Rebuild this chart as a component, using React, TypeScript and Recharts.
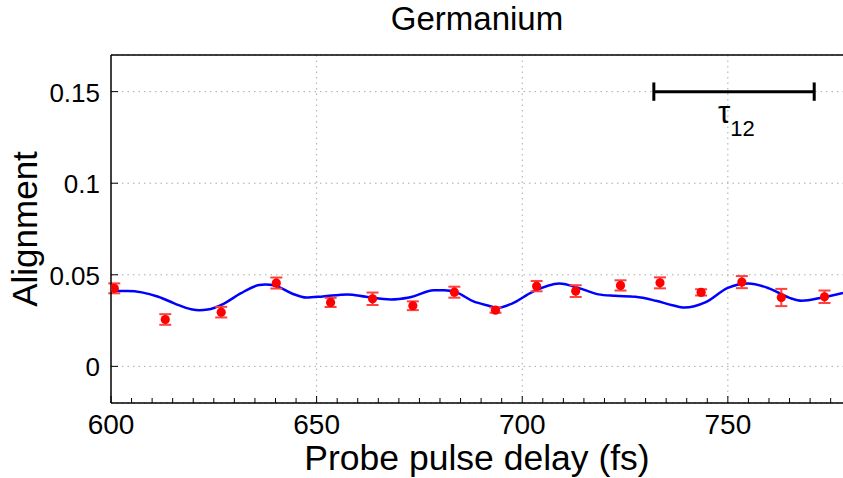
import { ComposedChart, Line, Scatter, ErrorBar, XAxis, YAxis, CartesianGrid, ReferenceLine, ReferenceDot } from "recharts";

// measured points (delay in fs, alignment, error)
const pointDelays = [600.8, 613.2, 626.8, 640.2, 653.4, 663.6, 673.4, 683.5, 693.5, 703.5, 713, 723.9, 733.5, 743.5, 753.4, 763, 773.5];
const pointValues = [0.0426, 0.0256, 0.0296, 0.0455, 0.0349, 0.0369, 0.0331, 0.0405, 0.0307, 0.0438, 0.0411, 0.0442, 0.0456, 0.0404, 0.046, 0.0376, 0.038];
const pointErrors = [0.0027, 0.0029, 0.0029, 0.003, 0.0025, 0.0034, 0.0024, 0.003, 0.0014, 0.0028, 0.0032, 0.0028, 0.003, 0.0017, 0.0033, 0.0047, 0.0034];

// fitted curve
const curveDelays = [600, 604, 607.5, 611.5, 615.5, 619.5, 621.5, 623.5, 627.5, 631.5, 636, 637.5, 640, 644, 647.5, 651.5, 657.5, 662, 668, 672.5, 678.5, 681, 684, 688, 692, 694, 697.5, 702.5, 709, 714, 718.5, 722.5, 727.5, 732.5, 736.5, 739.5, 744.5, 750, 755, 760, 765, 768, 773, 778];
const curveValues = [0.0411, 0.0411, 0.0404, 0.038, 0.0343, 0.0312, 0.0307, 0.031, 0.0343, 0.0398, 0.0444, 0.0447, 0.044, 0.0398, 0.0376, 0.0382, 0.0393, 0.038, 0.0365, 0.0376, 0.0415, 0.0416, 0.0404, 0.0356, 0.033, 0.0319, 0.0343, 0.0407, 0.0453, 0.0426, 0.0393, 0.0385, 0.038, 0.0358, 0.0334, 0.0321, 0.0349, 0.0429, 0.0453, 0.0426, 0.0374, 0.0358, 0.0376, 0.0401];

const xTicks = [600, 605, 610, 615, 620, 625, 630, 635, 640, 645, 650, 655, 660, 665, 670, 675, 680, 685, 690, 695, 700, 705, 710, 715, 720, 725, 730, 735, 740, 745, 750, 755, 760, 765, 770, 775];
const xMajor = [600, 650, 700, 750];
const yTicks = [0, 0.05, 0.1, 0.15];
const yTickLabels = ["0", "0.05", "0.1", "0.15"];

const tauStart = 732;
const tauEnd = 771;
const tauLevel = 0.15;

const points = pointDelays.map((t, i) => ({ t, v: pointValues[i], e: pointErrors[i] }));
const curve = curveDelays.map((t, i) => ({ t, v: curveValues[i] }));

const FONT = "'Liberation Sans', Arial, Helvetica, sans-serif";

const XTick = (props: any) => {
  const { x, y, payload } = props;
  const major = xMajor.includes(payload.value);
  return (
    <g>
      <line x1={x} x2={x} y1={y} y2={y - (major ? 7 : 5)} stroke="#000" strokeWidth={1} />
      {major && (
        <text x={x} y={y + 31} textAnchor="middle" fontSize={28} fontFamily={FONT} fill="#000">
          {payload.value}
        </text>
      )}
    </g>
  );
};

const YTick = (props: any) => {
  const { x, y, payload } = props;
  const idx = yTicks.indexOf(payload.value);
  return (
    <g>
      <line x1={x} x2={x + 7} y1={y} y2={y} stroke="#000" strokeWidth={1} />
      <text x={x - 11} y={y + 10} textAnchor="end" fontSize={26} fontFamily={FONT} fill="#000">
        {idx >= 0 ? yTickLabels[idx] : payload.value}
      </text>
    </g>
  );
};

const Dot = (props: any) => <circle cx={props.cx} cy={props.cy} r={4.6} fill="#ff0000" />;

const TauLabel = (props: any) => {
  const vb = props.viewBox || {};
  const cx = vb.x + (vb.width || 0) / 2;
  const cy = vb.y + (vb.height || 0) / 2;
  return (
    <text x={cx - 16} y={cy + 31} fontFamily={FONT} fill="#000">
      <tspan fontSize={31}>τ</tspan>
      <tspan fontSize={22} dy={13}>12</tspan>
    </text>
  );
};

export default function App() {
  return (
    <div style={{ position: "absolute", left: 0, top: 0, width: 843, height: 478, background: "#fff" }}>
      <ComposedChart width={843} height={478} margin={{ top: 55, right: 0, bottom: 35, left: 41 }}>
        <text x={477} y={30} textAnchor="middle" fontSize={33} fontFamily={FONT} fill="#000">
          Germanium
        </text>
        <CartesianGrid vertical={false} stroke="#aaa" strokeDasharray="1.5 4" />
        {xMajor.slice(1).map((t) => (
          <ReferenceLine key={t} x={t} stroke="#aaa" strokeDasharray="1.5 4" />
        ))}
        <XAxis
          type="number"
          dataKey="t"
          domain={[600, 778]}
          ticks={xTicks}
          interval={0}
          allowDataOverflow
          height={40}
          tickSize={0}
          tickMargin={0}
          tickLine={false}
          axisLine={{ stroke: "#000", strokeWidth: 1.5 }}
          tick={<XTick />}
          label={{
            value: "Probe pulse delay (fs)",
            position: "insideBottom",
            offset: -27,
            fontSize: 35.5,
            fontFamily: FONT,
            fill: "#000",
          }}
        />
        <YAxis
          type="number"
          domain={[-0.02, 0.17]}
          ticks={yTicks}
          interval={0}
          allowDataOverflow
          width={70}
          tickSize={0}
          tickMargin={0}
          tickLine={false}
          axisLine={{ stroke: "#000", strokeWidth: 1.5 }}
          tick={<YTick />}
          label={{
            value: "Alignment",
            angle: -90,
            position: "insideLeft",
            offset: -16,
            fontSize: 35,
            fontFamily: FONT,
            fill: "#000",
            style: { textAnchor: "middle" },
          }}
        />
        <ReferenceLine y={0.17} stroke="#000" strokeWidth={1.5} />
        <Line
          data={curve}
          dataKey="v"
          type="monotone"
          stroke="#0000ff"
          strokeWidth={2.5}
          dot={false}
          isAnimationActive={false}
        />
        <Scatter data={points} dataKey="v" shape={<Dot />} isAnimationActive={false}>
          <ErrorBar dataKey="e" direction="y" width={6} stroke="#ff4040" strokeWidth={2} />
        </Scatter>
        <ReferenceLine
          segment={[{ x: tauStart, y: tauLevel }, { x: tauEnd, y: tauLevel }]}
          stroke="#000"
          strokeWidth={3}
        />
        <ReferenceLine
          segment={[{ x: tauStart, y: tauLevel - 0.005 }, { x: tauStart, y: tauLevel + 0.005 }]}
          stroke="#000"
          strokeWidth={3}
        />
        <ReferenceLine
          segment={[{ x: tauEnd, y: tauLevel - 0.005 }, { x: tauEnd, y: tauLevel + 0.005 }]}
          stroke="#000"
          strokeWidth={3}
        />
        <ReferenceDot
          x={(tauStart + tauEnd) / 2}
          y={tauLevel}
          r={0}
          fill="none"
          stroke="none"
          label={<TauLabel />}
        />
      </ComposedChart>
    </div>
  );
}
